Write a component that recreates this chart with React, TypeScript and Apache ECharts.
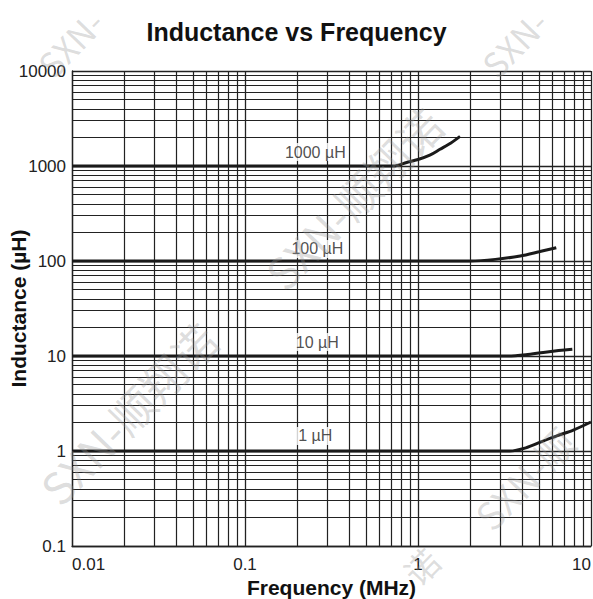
import React, { useEffect, useRef } from "react";
import * as echarts from "echarts";

// ---- data ----
const curveNames = ["1000 µH", "100 µH", "10 µH", "1 µH"];

const freq1000 = [0.01, 0.72, 0.86, 1.0, 1.17, 1.34, 1.55, 1.75];
const ind1000 = [1000, 1000, 1090, 1170, 1300, 1500, 1750, 2050];

const freq100 = [0.01, 2.0, 2.8, 3.9, 5.0, 6.3];
const ind100 = [100, 100, 104, 113, 125, 138];

const freq10 = [0.01, 3.3, 4.2, 5.3, 6.5, 7.8];
const ind10 = [10, 10, 10.3, 10.9, 11.4, 11.8];

const freq1 = [0.01, 3.4, 4.2, 5.1, 6.4, 7.9, 10];
const ind1 = [1, 1, 1.08, 1.24, 1.45, 1.66, 2.02];

// curve label anchors (data coordinates)
const labelFreq = [0.255, 0.262, 0.262, 0.255];
const labelInd = [1400, 134, 14, 1.44];

// axis ranges and tick labels
const xDecades = [0.01, 0.1, 1];
const yDecades = [0.1, 1, 10, 100, 1000];
const mantissas = [2, 3, 4, 5, 6, 7, 8, 9];
const xTickLabels = ["0.01", "0.1", "1", "10"];
const yTickLabels = ["0.1", "1", "10", "100", "1000", "10000"];

const watermarkText = "SXN-顺翔诺";

const zip = (a: number[], b: number[]) => a.map((v, i) => [v, b[i]]);

export default function App() {
  const ref = useRef<HTMLDivElement>(null);

  useEffect(() => {
    document.body.style.margin = "0";
    const el = ref.current!;
    const chart = echarts.init(el, null, { renderer: "svg" });

    const xMinor: number[] = [];
    xDecades.forEach((d) => mantissas.forEach((m) => xMinor.push(+(d * m).toPrecision(3))));
    const yMinor: number[] = [];
    yDecades.forEach((d) => mantissas.forEach((m) => yMinor.push(+(d * m).toPrecision(3))));

    const fmt = (labels: string[]) => (v: number) => {
      const s = String(+v.toPrecision(3));
      return labels.includes(s) ? s : "";
    };

    const fontFamily = "'Liberation Sans', Arial, sans-serif";
    const curveStyle = { color: "#1a1a1a", width: 3 };
    const gridColor = "#222";

    const curves = [
      zip(freq1000, ind1000),
      zip(freq100, ind100),
      zip(freq10, ind10),
      zip(freq1, ind1),
    ];

    const wm = (text: string, x: number, y: number, size = 44) => ({
      type: "text",
      x,
      y,
      rotation: 0.8,
      silent: true,
      z: 100,
      style: {
        text,
        fontSize: size,
        fontFamily: "'Noto Sans CJK SC', sans-serif",
        fill: "rgba(150,150,150,0.32)",
        align: "center",
        verticalAlign: "middle",
      },
    });

    chart.setOption({
      animation: false,
      backgroundColor: "#fff",
      title: {
        text: "Inductance vs Frequency",
        left: "center",
        top: 14,
        textStyle: { fontSize: 25, fontWeight: "bold", color: "#111", fontFamily },
      },
      grid: {
        left: 72,
        right: 2,
        top: 71,
        bottom: 53,
        containLabel: false,
        outerBoundsMode: "none",
      },
      xAxis: {
        type: "log",
        logBase: 10,
        min: 0.01,
        max: 10,
        name: "Frequency (MHz)",
        nameLocation: "middle",
        nameGap: 31,
        nameMoveOverlap: false,
        nameTextStyle: { fontSize: 21, fontWeight: "bold", color: "#111", fontFamily },
        axisLine: { show: true, lineStyle: { color: gridColor, width: 1.3 } },
        axisTick: { show: false },
        axisLabel: {
          fontSize: 17,
          color: "#222",
          fontFamily,
          margin: 10,
          formatter: fmt(xTickLabels),
          alignMinLabel: "left",
          alignMaxLabel: "right",
        },
        splitLine: { show: true, lineStyle: { color: gridColor, width: 1.3 } },
      },
      yAxis: {
        type: "log",
        logBase: 10,
        min: 0.1,
        max: 10000,
        name: "Inductance (µH)",
        nameLocation: "middle",
        nameRotate: 90,
        nameGap: 43,
        nameMoveOverlap: false,
        nameTextStyle: { fontSize: 21, fontWeight: "bold", color: "#111", fontFamily },
        axisLine: { show: true, lineStyle: { color: gridColor, width: 1.3 } },
        axisTick: { show: false },
        axisLabel: {
          fontSize: 17,
          color: "#222",
          fontFamily,
          margin: 6,
          formatter: fmt(yTickLabels),
        },
        splitLine: { show: true, lineStyle: { color: gridColor, width: 1.3 } },
      },
      series: [
        {
          type: "line",
          data: [[0.01, 0.1]],
          showSymbol: false,
          lineStyle: { opacity: 0 },
          silent: true,
          z: 1,
          markLine: {
            silent: true,
            symbol: ["none", "none"],
            label: { show: false },
            emphasis: { disabled: true },
            lineStyle: { color: gridColor, width: 1.2, type: "solid" },
            data: [
              ...xMinor.map((v) => ({ xAxis: v })),
              ...yMinor.map((v) => ({ yAxis: v })),
            ],
          },
        },
        ...curves.map((d, i) => ({
          name: curveNames[i],
          type: "line",
          data: d,
          showSymbol: false,
          smooth: 0.3,
          lineStyle: curveStyle,
          silent: true,
          z: 5,
        })),
        {
          type: "scatter",
          symbolSize: 0,
          silent: true,
          z: 6,
          data: labelFreq.map((f, i) => ({ value: [f, labelInd[i]], name: curveNames[i] })),
          label: {
            show: true,
            position: "inside",
            formatter: (p: any) => p.name,
            fontSize: 16,
            color: "#222",
            fontFamily,
            backgroundColor: "#fff",
            padding: [1, 2],
          },
        },
      ],
      graphic: [
        wm("SXN-", 70, 43, 34),
        wm("SXN-", 514, 43, 34),
        wm(watermarkText, 353, 198),
        wm(watermarkText, 128, 413),
        wm("SXN-顺", 524, 478, 38),
        wm("诺", 421, 566, 34),
      ],
    });

    return () => chart.dispose();
  }, []);

  return <div ref={ref} style={{ width: 593, height: 599 }} />;
}
